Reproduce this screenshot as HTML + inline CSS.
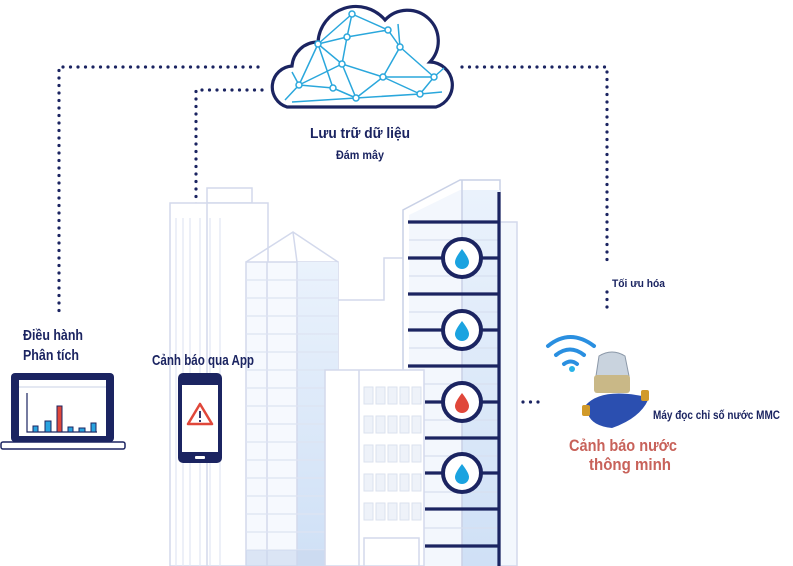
<!DOCTYPE html>
<html><head><meta charset="utf-8"><style>html,body{margin:0;padding:0;background:#fff}svg{display:block}text{font-family:"Liberation Sans",sans-serif;font-weight:bold}</style></head><body>
<svg width="793" height="566" viewBox="0 0 793 566" xmlns="http://www.w3.org/2000/svg">
<defs>
<linearGradient id="bl" x1="0" x2="0" y1="0" y2="1"><stop offset="0" stop-color="#eaf2fc"/><stop offset="1" stop-color="#cfe0f6"/></linearGradient>
</defs>
<g stroke="#1b2461" stroke-width="3.2" stroke-linecap="round" stroke-dasharray="0 7.5" fill="none">
<path d="M258 67 H59 V318"/>
<path d="M262 90 H196 V318"/>
<path d="M462 67 H607 V265"/>
<path d="M607 292 V312"/>
<path d="M508 402 H542"/>
</g>
<g fill="#fff" stroke="#d3d9ec" stroke-width="1.5">
<rect x="207" y="188" width="45" height="15"/>
<rect x="170" y="203" width="98" height="363"/>
<path d="M207 203 V566"/>
</g>
<g stroke="#e3e7f3" stroke-width="1.3">
<path d="M176 218V566M183 218V566M190 218V566M200 218V566M210 218V566M220 218V566"/>
</g>
<rect x="246" y="262" width="92" height="304" fill="#f6f9fe" stroke="#d3d9ec" stroke-width="1.5"/>
<rect x="297" y="262" width="41" height="304" fill="url(#bl)"/>
<path d="M246 262 L293 232 L338 262 M293 232 L297 262 V566 M267 262V566" stroke="#d3d9ec" stroke-width="1.5" fill="none"/>
<g stroke="#dde4f2" stroke-width="1.2">
<path d="M246 280H338M246 298H338M246 316H338M246 334H338M246 352H338M246 370H338M246 388H338M246 406H338M246 424H338M246 442H338M246 460H338M246 478H338M246 496H338M246 514H338M246 532H338M246 550H338"/>
</g>
<rect x="246" y="550" width="92" height="16" fill="#c9d7ee" opacity=".6"/>
<path d="M338 300 H384 V258 H403" fill="none" stroke="#d3d9ec" stroke-width="1.5"/>
<rect x="500" y="222" width="17" height="344" fill="#f3f7fd" stroke="#d3d9ec" stroke-width="1.5"/>
<path d="M403 566 V210 L460 180 H500 V566 Z" fill="#fff" stroke="#c9d1e6" stroke-width="1.5"/>
<path d="M409 566 V215 L460 190 H500 V566 Z" fill="#f3f7fd"/>
<rect x="462" y="190" width="38" height="376" fill="url(#bl)"/>
<path d="M462 180 V566" stroke="#c9d1e6" stroke-width="1.5"/>
<g stroke="#d8e0f0" stroke-width="1.2">
<path d="M409 240H500M409 276H500M409 312H500M409 348H500M409 384H500M409 420H500M409 456H500M409 492H500M409 528H500"/>
</g>
<g stroke="#1b2461" stroke-width="3.2">
<path d="M499 192 V566"/>
<path d="M408 222H499M408 258H499M408 294H499M408 330H499M408 366H499M425 402H499M425 438H499M425 473H499M425 509H499M425 546H499"/>
</g>
<rect x="325" y="370" width="99" height="196" fill="#fff" stroke="#d3d9ec" stroke-width="1.5"/>
<path d="M359 370 V566" stroke="#d3d9ec" stroke-width="1.5"/>
<g fill="#eef2f9" stroke="#dbe1ee" stroke-width="1">
<rect x="364" y="387" width="9" height="17"/><rect x="376" y="387" width="9" height="17"/><rect x="388" y="387" width="9" height="17"/><rect x="400" y="387" width="9" height="17"/><rect x="412" y="387" width="9" height="17"/>
<rect x="364" y="416" width="9" height="17"/><rect x="376" y="416" width="9" height="17"/><rect x="388" y="416" width="9" height="17"/><rect x="400" y="416" width="9" height="17"/><rect x="412" y="416" width="9" height="17"/>
<rect x="364" y="445" width="9" height="17"/><rect x="376" y="445" width="9" height="17"/><rect x="388" y="445" width="9" height="17"/><rect x="400" y="445" width="9" height="17"/><rect x="412" y="445" width="9" height="17"/>
<rect x="364" y="474" width="9" height="17"/><rect x="376" y="474" width="9" height="17"/><rect x="388" y="474" width="9" height="17"/><rect x="400" y="474" width="9" height="17"/><rect x="412" y="474" width="9" height="17"/>
<rect x="364" y="503" width="9" height="17"/><rect x="376" y="503" width="9" height="17"/><rect x="388" y="503" width="9" height="17"/><rect x="400" y="503" width="9" height="17"/><rect x="412" y="503" width="9" height="17"/>
</g>
<rect x="364" y="538" width="55" height="28" fill="#fff" stroke="#d3d9ec" stroke-width="1.5"/>
<g stroke="#1b2461" stroke-width="4" fill="#fff">
<circle cx="462" cy="258" r="19"/><circle cx="462" cy="330" r="19"/><circle cx="462" cy="402" r="19"/><circle cx="462" cy="473" r="19"/>
</g>
<g>
<path d="M462 249 q-7 9 -7 13 a7 7 0 0 0 14 0 q0 -4 -7 -13z" fill="#1ba3e0"/>
<path d="M462 321 q-7 9 -7 13 a7 7 0 0 0 14 0 q0 -4 -7 -13z" fill="#1ba3e0"/>
<path d="M462 393 q-7 9 -7 13 a7 7 0 0 0 14 0 q0 -4 -7 -13z" fill="#e0473a"/>
<path d="M462 464 q-7 9 -7 13 a7 7 0 0 0 14 0 q0 -4 -7 -13z" fill="#1ba3e0"/>
</g>
<!-- cloud -->
<path d="M287 107 A21 21 0 0 1 292 66 A26 26 0 0 1 318 42 A38 38 0 0 1 385 20 A24 24 0 0 1 430 62 A23 23 0 0 1 436 107 Z" fill="#fff" stroke="#1b2461" stroke-width="3.2"/>
<g stroke="#2aa7dc" stroke-width="1.5" fill="none">
<path d="M352 14 L388 30 L400 47 L383 77 L356 98 L342 64 L347 37 L352 14 M318 44 L347 37 L388 30 M318 44 L342 64 L383 77 L434 77 L420 94 L356 98 L333 88 L299 85 L318 44 M299 85 L342 64 M333 88 L356 98 M400 47 L434 77 M383 77 L420 94 M318 44 L333 88 M285 100 L299 85 L292 72 M352 14 L318 44 M400 47 L398 24 M292 102 L356 98 M420 94 L442 92 M434 77 L444 68"/>
</g>
<g fill="#fff" stroke="#2aa7dc" stroke-width="1.5">
<circle cx="352" cy="14" r="3"/><circle cx="388" cy="30" r="3"/><circle cx="400" cy="47" r="3"/><circle cx="383" cy="77" r="3"/><circle cx="356" cy="98" r="3"/><circle cx="342" cy="64" r="3"/><circle cx="347" cy="37" r="3"/><circle cx="318" cy="44" r="3"/><circle cx="299" cy="85" r="3"/><circle cx="333" cy="88" r="3"/><circle cx="434" cy="77" r="3"/><circle cx="420" cy="94" r="3"/>
</g>
<text x="360" y="138" text-anchor="middle" font-size="15" fill="#1b2461" textLength="100" lengthAdjust="spacingAndGlyphs">Lưu trữ dữ liệu</text>
<text x="360" y="159" text-anchor="middle" font-size="11.5" fill="#1b2461" textLength="48" lengthAdjust="spacingAndGlyphs">Đám mây</text>
<text x="612" y="287" font-size="11" fill="#1b2461" textLength="53" lengthAdjust="spacingAndGlyphs">Tối ưu hóa</text>
<text x="23" y="340" font-size="15" fill="#1b2461" textLength="60" lengthAdjust="spacingAndGlyphs">Điều hành</text>
<text x="23" y="360" font-size="15" fill="#1b2461" textLength="56" lengthAdjust="spacingAndGlyphs">Phân tích</text>
<text x="152" y="365" font-size="15" fill="#1b2461" textLength="102" lengthAdjust="spacingAndGlyphs">Cảnh báo qua App</text>
<rect x="11" y="373" width="103" height="69" rx="4" fill="#1b2461"/>
<rect x="19" y="380" width="87" height="56" fill="#fff"/>
<path d="M19 387 H106" stroke="#c9d1e6"/>
<rect x="1" y="442" width="124" height="7" rx="2" fill="#fff" stroke="#1b2461" stroke-width="1.5"/>
<path d="M27 393 V432 H97" stroke="#1b2461" stroke-width="1.2" fill="none"/>
<g stroke="#1b2461" stroke-width="1">
<rect x="33" y="426" width="5" height="6" fill="#29a3df"/><rect x="45" y="421" width="6" height="11" fill="#29a3df"/><rect x="57" y="406" width="5" height="26" fill="#e0473a"/><rect x="68" y="427" width="5" height="5" fill="#29a3df"/><rect x="79" y="428" width="6" height="4" fill="#29a3df"/><rect x="91" y="423" width="5" height="9" fill="#29a3df"/>
</g>
<rect x="178" y="373" width="44" height="90" rx="5" fill="#1b2461"/>
<rect x="182" y="385" width="36" height="67" fill="#fff"/>
<rect x="195" y="456" width="10" height="3" rx="1" fill="#fff"/>
<path d="M200 404 L212 424 H188 Z" fill="none" stroke="#e0473a" stroke-width="2.5" stroke-linejoin="round"/>
<path d="M200 411 V418 M200 420 V422" stroke="#1b2461" stroke-width="1.8"/>
<g fill="none" stroke="#2a8fe0" stroke-width="4" stroke-linecap="round">
<path d="M548 346 q22 -18 46 0"/><path d="M556 355 q14 -11 28 0"/><path d="M564 364 q7 -5 13 0"/>
</g>
<circle cx="572" cy="369" r="3" fill="#29b3e8"/>
<path d="M596 376 L599 356 q13 -8 26 0 L629 376 Z" fill="#c9d3de" stroke="#8b98a8"/>
<rect x="594" y="375" width="36" height="18" rx="3" fill="#c9b887"/>
<path d="M585 406 Q600 388 642 396 L648 400 Q640 418 612 428 Q592 426 588 414Z" fill="#2b4fb0"/>
<rect x="582" y="405" width="8" height="11" rx="2" fill="#d19a2a"/>
<rect x="641" y="390" width="8" height="11" rx="2" fill="#d19a2a"/>
<text x="653" y="419" font-size="12" fill="#1b2461" textLength="127" lengthAdjust="spacingAndGlyphs">Máy đọc chỉ số nước MMC</text>
<text x="623" y="451" text-anchor="middle" font-size="17" fill="#c8625a" textLength="108" lengthAdjust="spacingAndGlyphs">Cảnh báo nước</text>
<text x="630" y="470" text-anchor="middle" font-size="17" fill="#c8625a" textLength="82" lengthAdjust="spacingAndGlyphs">thông minh</text>
</svg>
</body></html>
